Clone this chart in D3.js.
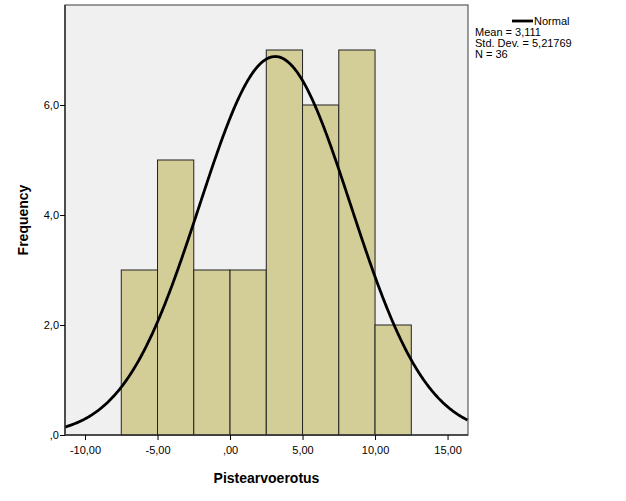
<!DOCTYPE html>
<html><head><meta charset="utf-8">
<script src="https://cdn.jsdelivr.net/npm/d3@7"></script>
<style>body{margin:0;background:#fff}svg{display:block}text{font-family:"Liberation Sans",Arial,sans-serif}</style>
</head><body>
<script>
const binStarts = [-7.5,-5,-2.5,0,2.5,5,7.5,10];
const binWidth = 2.5;
const counts = [3,5,3,3,7,6,7,2];
const xTicks = [-10,-5,0,5,10,15];
const xTickLabels = ["-10,00","-5,00",",00","5,00","10,00","15,00"];
const yTicks = [0,2,4,6];
const yTickLabels = [",0","2,0","4,0","6,0"];
const mean = 3.111, sd = 5.21769, N = 36;
const legendLines = ["Mean = 3,111","Std. Dev. = 5,21769","N = 36"];

const W=626,H=501;
const svg=d3.select("body").append("svg").attr("width",W).attr("height",H);
const L=65,R=468,T=5,B=435;
const x=d3.scaleLinear().domain([-11.38,16.41]).range([L,R]);
const y=d3.scaleLinear().domain([0,7.818]).range([B,T]);

svg.append("rect").attr("x",L).attr("y",T).attr("width",R-L).attr("height",B-T)
  .attr("fill","#f0f0f0").attr("stroke","#5a5a5a").attr("stroke-width",1.2);

const bars=binStarts.map((s,i)=>({x0:s,c:counts[i]}));
svg.append("g").selectAll("rect").data(bars).enter().append("rect")
  .attr("x",d=>x(d.x0)).attr("y",d=>y(d.c))
  .attr("width",d=>x(d.x0+binWidth)-x(d.x0)).attr("height",d=>y(0)-y(d.c))
  .attr("fill","#d3ce98").attr("stroke","#222").attr("stroke-width",1);

// normal curve
const pts=d3.range(-11.38,16.42,0.05).map(v=>[v,N*binWidth*Math.exp(-0.5*((v-mean)/sd)**2)/(sd*Math.sqrt(2*Math.PI))]);
svg.append("path").datum(pts).attr("d",d3.line().x(d=>x(d[0])).y(d=>y(d[1])))
  .attr("fill","none").attr("stroke","#000").attr("stroke-width",2.8);

// axes
svg.append("line").attr("x1",L).attr("x2",L).attr("y1",T).attr("y2",B).attr("stroke","#333").attr("stroke-width",1.5);
svg.append("line").attr("x1",L).attr("x2",R).attr("y1",B).attr("y2",B).attr("stroke","#333").attr("stroke-width",1.5);
const xa=svg.append("g").attr("transform",`translate(0,${B})`)
  .call(d3.axisBottom(x).tickValues(xTicks).tickFormat((d,i)=>xTickLabels[i]).tickSize(5).tickSizeOuter(0));
xa.select(".domain").remove();
xa.selectAll("text").attr("font-size",11).attr("fill","#000").attr("dy","1.0em");
xa.selectAll("line").attr("stroke","#000");
const ya=svg.append("g").attr("transform",`translate(${L},0)`)
  .call(d3.axisLeft(y).tickValues(yTicks).tickFormat((d,i)=>yTickLabels[i]).tickSize(5).tickSizeOuter(0));
ya.select(".domain").remove();
ya.selectAll("text").attr("font-size",11).attr("fill","#000").attr("x",-6);
ya.selectAll("line").attr("stroke","#000");

svg.append("text").attr("x",(L+R)/2).attr("y",483).attr("text-anchor","middle")
  .attr("font-size",14).attr("font-weight","bold").text("Pistearvoerotus");
svg.append("text").attr("transform",`translate(28,${(T+B)/2}) rotate(-90)`).attr("text-anchor","middle")
  .attr("font-size",14).attr("font-weight","bold").text("Frequency");

// legend
svg.append("line").attr("x1",512).attr("x2",533).attr("y1",21).attr("y2",21).attr("stroke","#000").attr("stroke-width",2.8);
svg.append("text").attr("x",534).attr("y",25).attr("font-size",11).text("Normal");
legendLines.forEach((t,i)=>svg.append("text").attr("x",475).attr("y",36+i*11).attr("font-size",11).text(t));
</script>
</body></html>
